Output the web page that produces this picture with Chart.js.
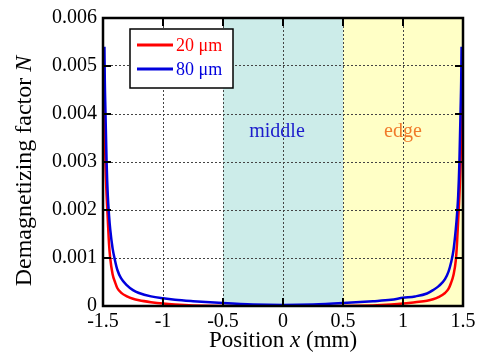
<!DOCTYPE html>
<html>
<head>
<meta charset="utf-8">
<script src="https://cdn.jsdelivr.net/npm/chart.js@4/dist/chart.umd.min.js"></script>
<style>
  html, body { margin: 0; padding: 0; background: #fff; }
  #wrap { width: 480px; height: 352px; }
</style>
</head>
<body>
<div id="wrap"><canvas id="c" width="480" height="352"></canvas></div>
<script>
// positions along the sample (mm)
const positions = [
  -1.488, -1.485, -1.48, -1.47, -1.46, -1.45, -1.44, -1.42, -1.40, -1.38, -1.35, -1.30, -1.25, -1.20, -1.10, -1.00, -0.90, -0.75, -0.50, -0.25,
  0,
  0.25, 0.50, 0.75, 0.90, 1.00, 1.10, 1.20, 1.25, 1.30, 1.35, 1.38, 1.40, 1.42, 1.44, 1.45, 1.46, 1.47, 1.48, 1.485, 1.488
];
// demagnetizing factor, 20 um film
const n20 = [
  0.0043, 0.0037, 0.0030, 0.0023, 0.0018, 0.0013, 0.0010, 0.00066, 0.00050, 0.00037, 0.00028, 0.00020, 0.00015, 0.00012, 0.00008, 0.00005, 0.00003, 0.00001, 0, 0,
  0,
  0, 0, 0.00001, 0.00003, 0.00005, 0.00008, 0.00011, 0.00014, 0.00019, 0.00027, 0.00036, 0.00048, 0.00064, 0.00095, 0.0013, 0.0018, 0.0023, 0.0030, 0.0037, 0.0043
];
// demagnetizing factor, 80 um film
const n80 = [
  0.0054, 0.0047, 0.0041, 0.0030, 0.0023, 0.0019, 0.0016, 0.0012, 0.00095, 0.00075, 0.00058, 0.00043, 0.00033, 0.00027, 0.00020, 0.00016, 0.00013, 0.00010, 0.00006, 0.00003,
  0.00002,
  0.00003, 0.00006, 0.00010, 0.00013, 0.00017, 0.00020, 0.00026, 0.00033, 0.00042, 0.00056, 0.00072, 0.00090, 0.00115, 0.0016, 0.0019, 0.0023, 0.0030, 0.0041, 0.0047, 0.0054
];
const seriesNames = ['20 \u03bcm', '80 \u03bcm'];
const xTicks = [-1.5, -1, -0.5, 0, 0.5, 1, 1.5];
const xTickLabels = ['-1.5', '-1', '-0.5', '0', '0.5', '1', '1.5'];
const yTicks = [0, 0.001, 0.002, 0.003, 0.004, 0.005, 0.006];
const yTickLabels = ['0', '0.001', '0.002', '0.003', '0.004', '0.005', '0.006'];
const regions = [
  { from: -0.5, to: 0.5, label: 'middle', fill: '#ccece9', text: '#1c1ccc' },
  { from: 0.5, to: 1.5, label: 'edge', fill: '#ffffc6', text: '#f07a2a' }
];

const SERIF = '"Liberation Serif", "DejaVu Serif", serif';
Chart.defaults.font.family = SERIF;

function points(ys) {
  return positions.map(function (x, i) { return { x: x, y: ys[i] }; });
}

const backdrop = {
  id: 'backdrop',
  beforeDraw: function (chart) {
    const ctx = chart.ctx;
    const xs = chart.scales.x;
    const a = chart.chartArea;
    ctx.save();
    regions.forEach(function (r) {
      const l = xs.getPixelForValue(r.from);
      const rr = xs.getPixelForValue(r.to);
      ctx.fillStyle = r.fill;
      ctx.fillRect(l, a.top, rr - l, a.bottom - a.top);
    });
    ctx.restore();
  }
};

const decor = {
  id: 'decor',
  afterDatasetsDraw: function (chart) {
    const ctx = chart.ctx;
    const xs = chart.scales.x;
    const ys = chart.scales.y;
    const a = chart.chartArea;
    ctx.save();

    // region labels
    ctx.font = '20px ' + SERIF;
    ctx.textAlign = 'center';
    ctx.textBaseline = 'middle';
    regions.forEach(function (r) {
      ctx.fillStyle = r.text;
      ctx.fillText(r.label, xs.getPixelForValue((r.from + r.to) / 2) - (r.label === 'middle' ? 6 : 0), ys.getPixelForValue(0.00364));
    });

    // frame
    ctx.strokeStyle = '#000';
    ctx.lineWidth = 2.5;
    ctx.strokeRect(a.left, a.top, a.right - a.left, a.bottom - a.top);

    // inward ticks
    ctx.lineWidth = 2;
    const tl = 8;
    xTicks.slice(1, -1).forEach(function (v) {
      const p = Math.round(xs.getPixelForValue(v));
      ctx.beginPath();
      ctx.moveTo(p, a.bottom); ctx.lineTo(p, a.bottom - tl);
      ctx.moveTo(p, a.top); ctx.lineTo(p, a.top + tl);
      ctx.stroke();
    });
    yTicks.slice(1, -1).forEach(function (v) {
      const p = Math.round(ys.getPixelForValue(v));
      ctx.beginPath();
      ctx.moveTo(a.left, p); ctx.lineTo(a.left + tl, p);
      ctx.moveTo(a.right, p); ctx.lineTo(a.right - tl, p);
      ctx.stroke();
    });

    // legend
    const lx = 130, ly = 29, lw = 103, lh = 59;
    ctx.fillStyle = '#fff';
    ctx.fillRect(lx, ly, lw, lh);
    ctx.lineWidth = 1.5;
    ctx.strokeRect(lx, ly, lw, lh);
    ctx.font = '18px ' + SERIF;
    ctx.textAlign = 'left';
    ctx.textBaseline = 'alphabetic';
    chart.data.datasets.forEach(function (ds, i) {
      const y = ly + 16 + i * 24;
      ctx.strokeStyle = ds.borderColor;
      ctx.lineWidth = 3;
      ctx.beginPath();
      ctx.moveTo(lx + 7, y); ctx.lineTo(lx + 43, y);
      ctx.stroke();
      ctx.fillStyle = ds.borderColor;
      ctx.fillText(ds.label, lx + 46, y + 6);
    });

    // axis titles
    ctx.fillStyle = '#000';
    ctx.textBaseline = 'middle';
    drawMixed(ctx, [['Position', 'normal'], [' ', 'normal'], ['x', 'italic'], [' (mm)', 'normal']], (a.left + a.right) / 2, 341, 23);
    ctx.save();
    ctx.translate(25, 171);
    ctx.rotate(-Math.PI / 2);
    drawMixed(ctx, [['Demagnetizing factor ', 'normal'], ['N', 'italic']], 0, 0, 24);
    ctx.restore();

    ctx.restore();
  }
};

function drawMixed(ctx, parts, cx, cy, size) {
  let total = 0;
  parts.forEach(function (p) {
    ctx.font = p[1] + ' ' + size + 'px ' + SERIF;
    total += ctx.measureText(p[0]).width;
  });
  let x = cx - total / 2;
  ctx.textAlign = 'left';
  parts.forEach(function (p) {
    ctx.font = p[1] + ' ' + size + 'px ' + SERIF;
    ctx.fillText(p[0], x, cy);
    x += ctx.measureText(p[0]).width;
  });
}

new Chart(document.getElementById('c'), {
  type: 'line',
  data: {
    datasets: [
      { label: seriesNames[0], data: points(n20), borderColor: '#ff0000', borderWidth: 2.5, pointRadius: 0, cubicInterpolationMode: 'monotone', order: 2 },
      { label: seriesNames[1], data: points(n80), borderColor: '#0000dd', borderWidth: 2.5, pointRadius: 0, cubicInterpolationMode: 'monotone', order: 1 }
    ]
  },
  options: {
    responsive: false,
    animation: false,
    layout: { padding: { top: 18, right: 17, left: 0, bottom: 0 } },
    plugins: { legend: { display: false }, tooltip: { enabled: false } },
    scales: {
      x: {
        type: 'linear',
        min: -1.5,
        max: 1.5,
        afterBuildTicks: function (s) { s.ticks = xTicks.map(function (v) { return { value: v }; }); },
        afterFit: function (s) { s.height = 46; },
        ticks: {
          color: '#000',
          padding: 4,
          maxRotation: 0,
          font: { family: SERIF, size: 20 },
          callback: function (v) { return xTickLabels[xTicks.indexOf(v)]; }
        },
        grid: { color: '#444', lineWidth: 1, drawTicks: false },
        border: { display: false, dash: [2, 2] }
      },
      y: {
        type: 'linear',
        min: 0,
        max: 0.006,
        afterBuildTicks: function (s) { s.ticks = yTicks.map(function (v) { return { value: v }; }); },
        afterFit: function (s) { s.width = 103; },
        ticks: {
          color: '#000',
          padding: 6,
          font: { family: SERIF, size: 20 },
          callback: function (v) { return yTickLabels[yTicks.indexOf(v)]; }
        },
        grid: { color: '#444', lineWidth: 1, drawTicks: false },
        border: { display: false, dash: [2, 2] }
      }
    }
  },
  plugins: [backdrop, decor]
});
</script>
</body>
</html>
